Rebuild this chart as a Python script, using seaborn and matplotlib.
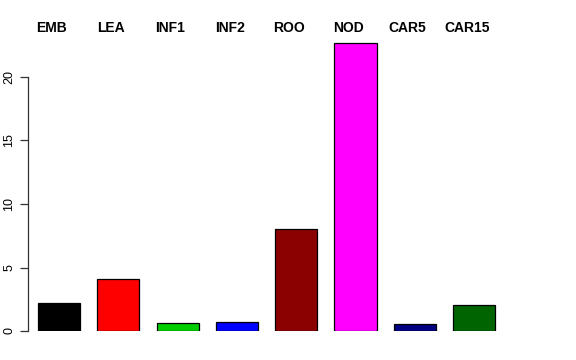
import matplotlib
matplotlib.use("Agg")
import matplotlib.pyplot as plt
import seaborn as sns

categories = ["EMB", "LEA", "INF1", "INF2", "ROO", "NOD", "CAR5", "CAR15"]
values = [2.18, 4.09, 0.65, 0.68, 8.0, 22.68, 0.58, 2.02]
colors = ["#000000", "#FF0000", "#00CD00", "#0000FF", "#8B0000", "#FF00FF", "#000080", "#006400"]
yticks = [0, 5, 10, 15, 20]

sns.set_style("white")
plt.rcParams['font.family'] = ['Liberation Sans', 'DejaVu Sans']
plt.rcParams['text.color'] = 'black'
plt.rcParams['ytick.color'] = 'black'

W, H = 576, 360
fig = plt.figure(figsize=(W / 100, H / 100), dpi=100)

px_per_x = 59.3
px_per_y = 12.7
x0_px = 59.0   # pixel of bar 0 center
y0_px = 331.0  # pixel of y=0
left_px, right_px = 28.0, 560.0
top_px, bottom_px = 26.0, 331.0
ax = fig.add_axes([left_px / W, 1 - bottom_px / H, (right_px - left_px) / W, (bottom_px - top_px) / H])

sns.barplot(x=categories, y=values, hue=categories, palette=colors, width=0.71,
            edgecolor="black", linewidth=0.9, legend=False, ax=ax, saturation=1)

ax.set_xlim((left_px - x0_px) / px_per_x, (right_px - x0_px) / px_per_x)
ax.set_ylim(0, (bottom_px - top_px) / px_per_y)

for s in ["top", "right", "bottom"]:
    ax.spines[s].set_visible(False)
ax.spines["left"].set_bounds(0, 20)
ax.spines["left"].set_color("#333333")
ax.spines["left"].set_linewidth(0.9)
ax.set_xticks([])
ax.set_yticks(yticks)
ax.set_yticklabels([str(t) for t in yticks], rotation=90, va="center", fontsize=9, color="black")
ax.tick_params(axis="y", length=6, width=0.9, left=True, pad=3, color="#333333")
ax.set_xlabel("")
ax.set_ylabel("")

label_y = (y0_px - 28) / px_per_y
for i, c in enumerate(categories):
    ax.text(i - 0.12, label_y, c, ha="center", va="center", fontsize=10,
            fontweight="bold", color="black", clip_on=False)

fig.savefig("out.png", dpi=100)
